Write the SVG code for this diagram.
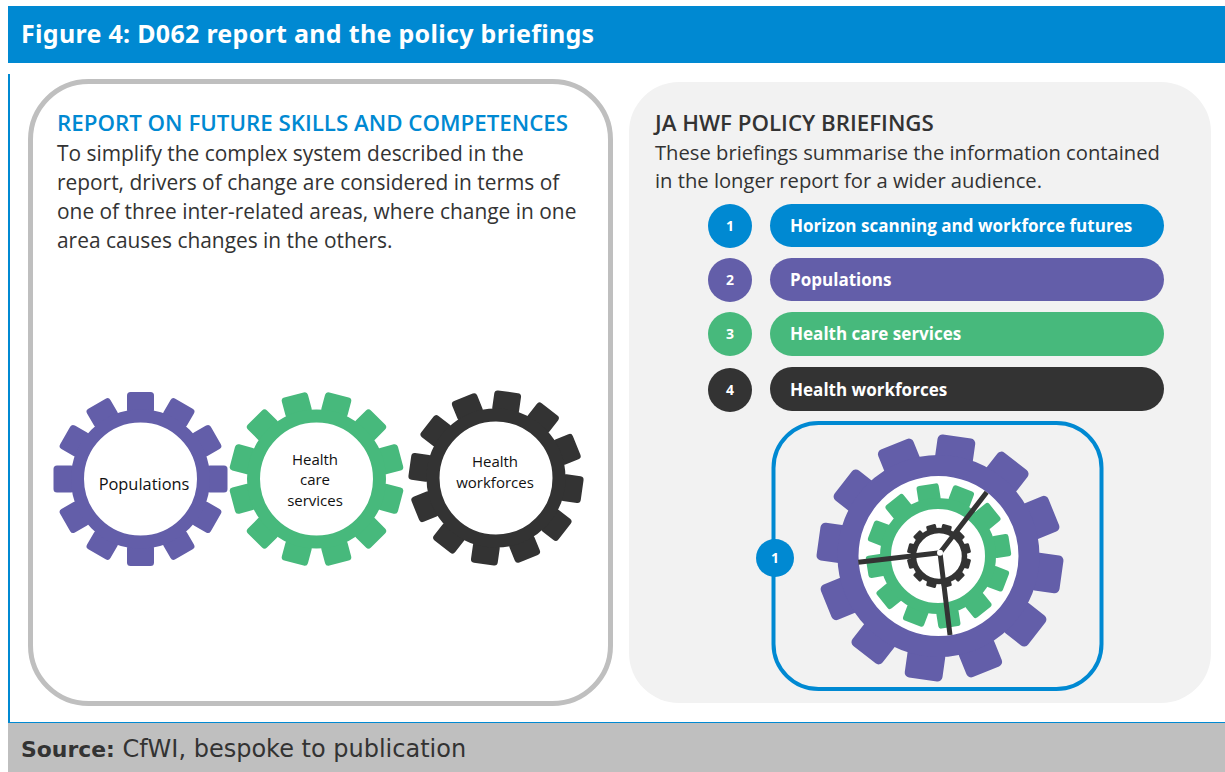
<svg xmlns="http://www.w3.org/2000/svg" xmlns:xlink="http://www.w3.org/1999/xlink" width="1225" height="772" viewBox="0 0 1225 772">
<style>
text{font-family:"Open Sans","Noto Sans","Liberation Sans",sans-serif}
.title{font-family:"Noto Sans",sans-serif;font-weight:700;font-size:25px;fill:#fff;letter-spacing:.3px}
.src{font-family:"DejaVu Sans",sans-serif;font-size:24px;fill:#333}
.h{font-size:22.3px;font-weight:600}
.b{font-size:20.9px;fill:#333}
.br{font-size:20.2px;fill:#333}
.g{font-size:15px;fill:#111;text-anchor:middle}
.pl{font-size:17.05px;font-weight:700;fill:#fff}
.n{font-size:14px;font-weight:700;fill:#fff;text-anchor:middle}
.purple{fill:#635ea9}.green{fill:#47b97c}.dark{fill:#333}.blue{fill:#0089d2}
.rp{fill:#fff;stroke:#635ea9}.rg{fill:#fff;stroke:#47b97c}.rd{fill:#fff;stroke:#333}
.spoke{stroke:#333;stroke-width:5;fill:none}
</style>
<defs>
<rect id="t" x="-13.5" y="-87" width="27" height="21" rx="3.5"/>
<g id="teeth">
<use href="#t"/><use href="#t" transform="rotate(30)"/><use href="#t" transform="rotate(60)"/><use href="#t" transform="rotate(90)"/><use href="#t" transform="rotate(120)"/><use href="#t" transform="rotate(150)"/><use href="#t" transform="rotate(180)"/><use href="#t" transform="rotate(210)"/><use href="#t" transform="rotate(240)"/><use href="#t" transform="rotate(270)"/><use href="#t" transform="rotate(300)"/><use href="#t" transform="rotate(330)"/>
</g>
</defs>
<rect width="1225" height="772" fill="#fff"/>
<g id="frame">
<rect class="blue" x="8" y="6" width="1217" height="57"/>
<rect class="blue" x="8" y="74" width="2" height="648"/>
<rect class="blue" x="8" y="722" width="1217" height="1"/>
<rect x="8" y="723" width="1217" height="49" fill="#bfbfbf"/>
<text class="title" x="21" y="43">Figure 4: D062 report and the policy briefings</text>
<text class="src" x="21" y="757"><tspan font-weight="700" style="font-size:21.9px">Source:</tspan> CfWI, bespoke to publication</text>
</g>
<g id="left-panel">
<rect x="30.5" y="81.5" width="580" height="622" rx="58" fill="#fff" stroke="#bfbfbf" stroke-width="5"/>
<text class="h" x="57" y="131" fill="#0089d2">REPORT ON FUTURE SKILLS AND COMPETENCES</text>
<text class="b" x="57" y="161">To simplify the complex system described in the</text>
<text class="b" x="57" y="190">report, drivers of change are considered in terms of</text>
<text class="b" x="57" y="219">one of three inter-related areas, where change in one</text>
<text class="b" x="57" y="248">area causes changes in the others.</text>
</g>
<g id="gear-populations">
<use href="#teeth" class="purple" transform="translate(140.5 479)"/>
<circle class="rp" cx="140.5" cy="479" r="63" stroke-width="13"/>
<text class="g" x="144" y="490" style="font-size:16.4px">Populations</text>
</g>
<g id="gear-services">
<use href="#teeth" class="green" transform="translate(316.5 479) rotate(15)"/>
<circle class="rg" cx="316.5" cy="479" r="63" stroke-width="13"/>
<text class="g" x="315" y="465">Health</text>
<text class="g" x="315" y="485">care</text>
<text class="g" x="315" y="506">services</text>
</g>
<g id="gear-workforces">
<use href="#teeth" class="dark" transform="translate(496 478) rotate(8)"/>
<circle class="rd" cx="496" cy="478" r="63" stroke-width="13"/>
<text class="g" x="495" y="467">Health</text>
<text class="g" x="495" y="488">workforces</text>
</g>
<g id="right-panel">
<rect x="629" y="82" width="582" height="621" rx="50" fill="#f2f2f2"/>
<text class="h" x="655" y="131" fill="#333">JA HWF POLICY BRIEFINGS</text>
<text class="br" x="655" y="160">These briefings summarise the information contained</text>
<text class="br" x="655" y="188">in the longer report for a wider audience.</text>
</g>
<g id="briefing-1"><circle class="blue" cx="730" cy="226" r="22"/><text class="n" x="730" y="231">1</text><rect class="blue" x="770" y="204" width="394" height="43" rx="21.5"/><text class="pl" x="790" y="232">Horizon scanning and workforce futures</text></g>
<g id="briefing-2"><circle class="purple" cx="730" cy="280" r="22"/><text class="n" x="730" y="285">2</text><rect class="purple" x="770" y="258" width="394" height="43" rx="21.5"/><text class="pl" x="790" y="286">Populations</text></g>
<g id="briefing-3"><circle class="green" cx="730" cy="334" r="22"/><text class="n" x="730" y="339">3</text><rect class="green" x="770" y="312" width="394" height="44" rx="22"/><text class="pl" x="790" y="340">Health care services</text></g>
<g id="briefing-4"><circle class="dark" cx="730" cy="390" r="22"/><text class="n" x="730" y="395">4</text><rect class="dark" x="770" y="367" width="394" height="44" rx="22"/><text class="pl" x="790" y="396">Health workforces</text></g>
<g id="nested-gears">
<rect x="773.5" y="423" width="328" height="266" rx="45" fill="none" stroke="#0089d2" stroke-width="4"/>
<use href="#teeth" class="purple" transform="translate(940 558) rotate(8) scale(1.41)"/>
<circle class="rp" cx="938.5" cy="556" r="90.5" stroke-width="21"/>
<use href="#teeth" class="green" transform="translate(938.5 556) rotate(21) scale(.83)"/>
<circle class="rg" cx="938" cy="556" r="52.5" stroke-width="11"/>
<use href="#teeth" class="dark" transform="translate(939 556) rotate(15) scale(.368)"/>
<circle class="rd" cx="939" cy="556" r="25.5" stroke-width="5.5"/>
<circle class="blue" cx="775" cy="558" r="19"/>
<text class="n" x="775" y="563">1</text>
</g>
<g id="connectors">
<path class="spoke" d="M940 552.7L986.7 492.3M940 552.7L858.3 562.3M940 552.7L950 635"/>
<circle cx="940" cy="552.7" r="3" fill="#fff"/>
</g>
</svg>
